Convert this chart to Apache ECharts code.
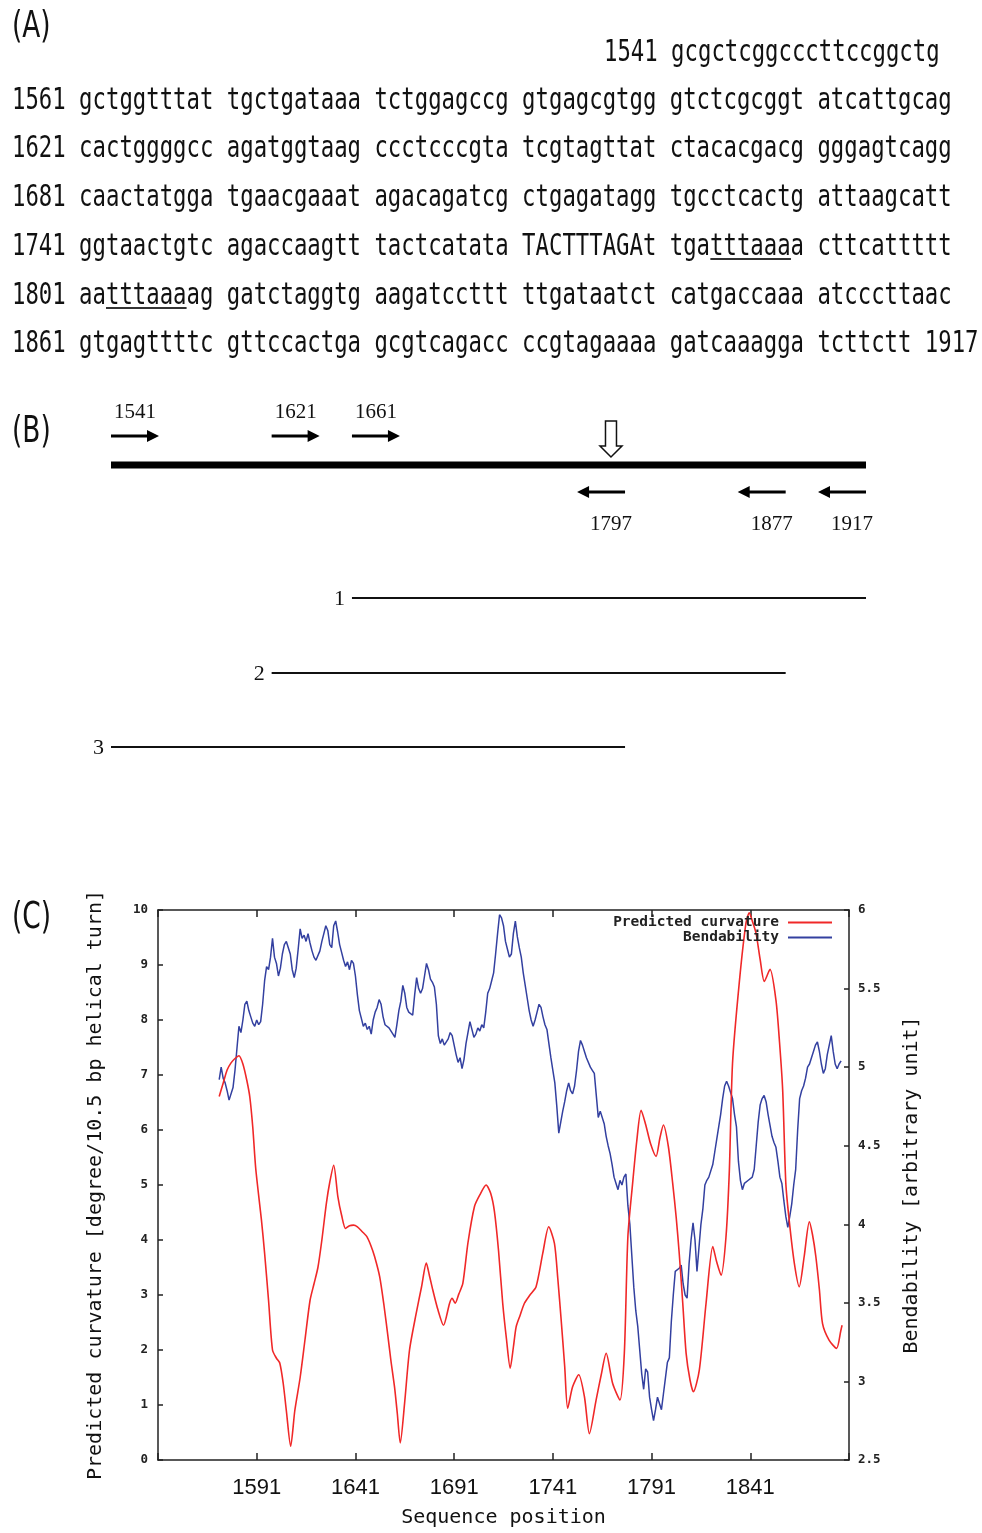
<!DOCTYPE html>
<html><head><meta charset="utf-8">
<script src="https://cdn.jsdelivr.net/npm/echarts@6/dist/echarts.min.js"></script>
<style>html,body{margin:0;padding:0;background:#fff}#c{width:982px;height:1533px}</style>
</head><body><div id="c"></div>
<script>
// ---------------- Panel A data ----------------
const seqFirstRowNumber = 1541;
const seqFirstRowText = 'gcgctcggcccttccggctg';
const seqRowNumbers = [1561, 1621, 1681, 1741, 1801, 1861];
const seqRowTexts = [
  'gctggtttat tgctgataaa tctggagccg gtgagcgtgg gtctcgcggt atcattgcag',
  'cactggggcc agatggtaag ccctcccgta tcgtagttat ctacacgacg gggagtcagg',
  'caactatgga tgaacgaaat agacagatcg ctgagatagg tgcctcactg attaagcatt',
  'ggtaactgtc agaccaagtt tactcatata TACTTTAGAt tgatttaaaa cttcattttt',
  'aatttaaaag gatctaggtg aagatccttt ttgataatct catgaccaaa atcccttaac',
  'gtgagttttc gttccactga gcgtcagacc ccgtagaaaa gatcaaagga tcttctt'
];
const seqEndNumber = 1917;
// underlined motifs: row index, group index, offset in group, length
const underlineRows = [3, 4];
const underlineGroups = [4, 0];
const underlineOffsets = [3, 2];
const underlineLengths = [6, 6];

// ---------------- Panel B data ----------------
const fragmentRange = [1541, 1917];
const forwardPrimers = [1541, 1621, 1661];
const reversePrimers = [1797, 1877, 1917];
const productNames = ['1', '2', '3'];
const productStarts = [1661, 1621, 1541];
const productEnds = [1917, 1877, 1797];
const bendSitePosition = 1790;

// ---------------- Panel C data ----------------
const xTickLabels = [1591, 1641, 1691, 1741, 1791, 1841];
const curvPos = [1572,1574,1576,1578,1580,1582,1584,1586,1587.5,1589,1590.5,1593.4,1595,1597,1599,1601,1602.7,1604.4,1606,1608.2,1610.3,1613,1615.5,1618,1620,1622,1624,1626.3,1628,1630,1632.1,1634,1636,1638,1640,1642,1644.5,1646.8,1648.8,1650.7,1653.3,1655.5,1657.5,1659,1660.8,1662.2,1663.7,1665.9,1668.4,1671.8,1674.5,1676.9,1678.5,1680.2,1682.8,1685.6,1688.7,1690,1691.5,1693.4,1695.4,1698,1701.3,1704,1707.2,1709.5,1711.4,1713.5,1715.6,1717.5,1719.4,1721,1722.4,1724.3,1726.6,1729.4,1732.5,1735.9,1738.9,1741.8,1743.5,1745.2,1747,1748.5,1751,1754.1,1757,1759.5,1762.9,1765.5,1768,1771.3,1775,1777.2,1779,1781.4,1783.5,1785.7,1788,1790.5,1793.3,1795.2,1797,1799.5,1801.7,1803.5,1805,1806.8,1808.5,1810.5,1812.2,1815.2,1818.6,1822,1824,1826.2,1828.7,1830.4,1832,1835.4,1838.8,1840.5,1842,1843.9,1846,1848.1,1851,1854,1855.8,1857.4,1859,1860.7,1863.3,1865.8,1868.3,1870.9,1872.5,1874.2,1876,1877.6,1880.9,1884.7,1886.9,1887.5];
const curvVal = [6.61,6.85,7.09,7.22,7.30,7.35,7.20,6.90,6.6,6.05,5.3,4.36,3.76,2.9,2.0,1.85,1.76,1.4,0.9,0.25,0.9,1.5,2.2,2.9,3.2,3.5,4.0,4.67,5.05,5.36,4.79,4.45,4.21,4.26,4.27,4.24,4.15,4.06,3.9,3.7,3.33,2.8,2.24,1.8,1.33,0.85,0.31,1.03,2.0,2.67,3.15,3.58,3.35,3.09,2.73,2.45,2.85,2.94,2.85,3.02,3.21,3.95,4.61,4.82,5.0,4.85,4.52,3.8,2.85,2.2,1.67,2.05,2.42,2.62,2.85,3.0,3.15,3.76,4.24,3.94,3.3,2.55,1.7,0.94,1.33,1.55,1.15,0.48,1.09,1.55,1.94,1.39,1.09,1.94,4.06,5.03,5.8,6.36,6.1,5.75,5.52,5.85,6.09,5.7,5.03,4.4,3.76,2.85,1.94,1.45,1.24,1.64,2.85,3.88,3.6,3.36,4.06,5.27,7.21,8.67,9.76,9.95,9.8,9.58,9.1,8.7,8.92,8.36,7.6,6.73,5.03,4.36,3.58,3.15,3.7,4.33,4.1,3.7,3.1,2.48,2.18,2.03,2.36,2.45];
const bendPos = [1572,1573,1574,1575,1576,1577,1578,1579,1580,1581,1582,1583,1584,1585,1586,1587,1588,1589,1590,1591,1592,1593,1594,1595,1596,1597,1598,1599,1600,1601,1602,1603,1604,1605,1606,1607,1608,1609,1610,1611,1612,1613,1614,1615,1616,1617,1618,1619,1620,1621,1622,1623,1624,1625,1626,1627,1628,1629,1630,1631,1632,1633,1634,1635,1636,1637,1638,1639,1640,1641,1642,1643,1644,1645,1646,1647,1648,1649,1650,1651,1652,1653,1654,1655,1656,1657,1658,1659,1660,1661,1662,1663,1664,1665,1666,1667,1668,1669,1670,1671,1672,1673,1674,1675,1676,1677,1678,1679,1680,1681,1682,1683,1684,1685,1686,1687,1688,1689,1690,1691,1692,1693,1694,1695,1696,1697,1698,1699,1700,1701,1702,1703,1704,1705,1706,1707,1708,1709,1710,1711,1712,1713,1714,1715,1716,1717,1718,1719,1720,1721,1722,1723,1724,1725,1726,1727,1728,1729,1730,1731,1732,1733,1734,1735,1736,1737,1738,1739,1740,1741,1742,1743,1744,1745,1746,1747,1748,1749,1750,1751,1752,1753,1754,1755,1756,1757,1758,1759,1760,1761,1762,1763,1764,1765,1766,1767,1768,1769,1770,1771,1772,1773,1774,1775,1776,1777,1778,1779,1780,1781,1782,1783,1784,1785,1786,1787,1788,1789,1790,1791,1792,1793,1794,1795,1796,1797,1798,1799,1800,1801,1802,1803,1804,1805,1806,1807,1808,1809,1810,1811,1812,1813,1814,1815,1816,1817,1818,1819,1820,1821,1822,1823,1824,1825,1826,1827,1828,1829,1830,1831,1832,1833,1834,1835,1836,1837,1838,1839,1840,1841,1842,1843,1844,1845,1846,1847,1848,1849,1850,1851,1852,1853,1854,1855,1856,1857,1858,1859,1860,1861,1862,1863,1864,1865,1866,1867,1868,1869,1870,1871,1872,1873,1874,1875,1876,1877,1878,1879,1880,1881,1882,1883,1884,1885,1886,1887];
const bendVal = [4.92,5.00,4.93,4.90,4.85,4.79,4.80,4.87,4.98,5.12,5.26,5.22,5.30,5.40,5.42,5.36,5.32,5.28,5.26,5.30,5.27,5.29,5.40,5.55,5.64,5.62,5.70,5.82,5.70,5.66,5.58,5.63,5.72,5.78,5.80,5.79,5.72,5.62,5.57,5.63,5.75,5.88,5.82,5.84,5.80,5.85,5.79,5.74,5.70,5.68,5.69,5.74,5.80,5.85,5.90,5.87,5.78,5.76,5.90,5.93,5.86,5.78,5.73,5.68,5.64,5.67,5.62,5.68,5.66,5.58,5.46,5.36,5.31,5.26,5.28,5.24,5.26,5.21,5.30,5.35,5.38,5.43,5.40,5.32,5.27,5.26,5.25,5.24,5.21,5.19,5.27,5.36,5.42,5.52,5.47,5.38,5.35,5.36,5.33,5.46,5.57,5.50,5.47,5.50,5.58,5.66,5.62,5.56,5.54,5.51,5.40,5.20,5.15,5.18,5.14,5.13,5.18,5.22,5.20,5.14,5.08,5.03,5.06,4.99,5.05,5.15,5.22,5.29,5.24,5.19,5.21,5.25,5.23,5.27,5.25,5.35,5.47,5.50,5.55,5.60,5.72,5.85,5.97,5.95,5.90,5.80,5.75,5.70,5.72,5.85,5.93,5.83,5.76,5.70,5.60,5.52,5.44,5.36,5.30,5.26,5.30,5.35,5.40,5.38,5.32,5.27,5.24,5.15,5.06,4.98,4.90,4.75,4.58,4.65,4.72,4.78,4.85,4.90,4.85,4.83,4.88,4.98,5.10,5.17,5.14,5.10,5.06,5.05,5.00,4.98,4.96,4.82,4.68,4.72,4.73,4.64,4.56,4.50,4.45,4.38,4.30,4.26,4.22,4.28,4.25,4.30,4.32,4.12,4.00,3.80,3.60,3.45,3.35,3.20,3.05,2.95,3.08,3.06,2.90,2.82,2.75,2.82,2.90,2.86,2.82,2.92,3.02,3.12,3.15,3.38,3.55,3.70,3.71,3.72,3.74,3.62,3.55,3.53,3.75,3.90,4.01,3.90,3.70,3.85,4.00,4.10,4.25,4.28,4.30,4.30,4.38,4.46,4.54,4.62,4.70,4.80,4.88,4.91,4.88,4.87,4.80,4.70,4.62,4.40,4.28,4.22,4.26,4.25,4.28,4.27,4.30,4.35,4.50,4.65,4.76,4.80,4.82,4.78,4.70,4.63,4.56,4.52,4.49,4.40,4.30,4.26,4.15,4.05,3.98,4.05,4.13,4.25,4.35,4.60,4.80,4.85,4.88,4.93,5.00,5.02,5.06,5.10,5.14,5.16,5.10,5.02,4.96,4.99,5.08,5.14,5.20,5.10,5.02,4.99,5.02,5.04];

// ---------------- Layout / style constants ----------------
const MONO = '"DejaVu Sans Mono", "Liberation Mono", monospace';
const SERIF = '"Liberation Serif", "DejaVu Serif", serif';
const CHAR_W = 13.43;
const A_X0 = 12;
const A_ROW_Y = [101, 149, 198, 247, 296, 344];
const A_FIRST_Y = 53;
const A_FIRST_X = 604;
const A_SCALE_Y = 1.32;
const seqFont = '22.3px ' + MONO;

const B = { fwdY: 436, fwdLabelY: 412, lineY: 465, revY: 492, revLabelY: 524,
            productY: [598, 673, 747], arrowLen: 48 };

function txt(x, y, text, font, opts) {
  opts = opts || {};
  return Object.assign({
    type: 'text', x: x, y: y, silent: true,
    style: Object.assign({ text: text, font: font, fill: '#111',
      textAlign: opts.align || 'left', textVerticalAlign: 'middle',
      align: opts.align || 'left', verticalAlign: 'middle' }, opts.style || {})
  }, opts.props || {});
}

const graphics = [];
// Panel titles
[['(A)', 27], ['(B)', 432], ['(C)', 918]].forEach(function (p) {
  graphics.push(txt(12, p[1], p[0], '30px "DejaVu Sans", sans-serif', { props: { scaleX: 0.88, scaleY: 1.25 } }));
});
// Panel A sequence rows
graphics.push(txt(A_FIRST_X, A_FIRST_Y, seqFirstRowNumber + ' ' + seqFirstRowText, seqFont, { props: { scaleY: A_SCALE_Y } }));
seqRowNumbers.forEach(function (n, i) {
  let s = n + ' ' + seqRowTexts[i];
  if (i === seqRowNumbers.length - 1) s += ' ' + seqEndNumber;
  graphics.push(txt(A_X0, A_ROW_Y[i], s, seqFont, { props: { scaleY: A_SCALE_Y } }));
});
underlineRows.forEach(function (r, k) {
  const idx = 5 + underlineGroups[k] * 11 + underlineOffsets[k];
  const x1 = A_X0 + idx * CHAR_W, x2 = x1 + underlineLengths[k] * CHAR_W;
  const y = A_ROW_Y[r] + 12;
  graphics.push({ type: 'line', silent: true, shape: { x1: x1, y1: y, x2: x2, y2: y }, style: { stroke: '#333', lineWidth: 2 } });
});

// ---------------- Panel B custom render functions ----------------
function fwdArrow(params, api) {
  const pos = api.value(0);
  const x = api.coord([pos, 0])[0];
  const L = B.arrowLen, y = B.fwdY;
  return { type: 'group', children: [
    { type: 'line', shape: { x1: x, y1: y, x2: x + L - 8, y2: y }, style: { stroke: '#000', lineWidth: 2.8 } },
    { type: 'polygon', shape: { points: [[x + L, y], [x + L - 12, y - 6], [x + L - 12, y + 6]] }, style: { fill: '#000' } },
    { type: 'text', x: x + L / 2, y: B.fwdLabelY, style: { text: String(pos), font: '21px ' + SERIF, fill: '#111', align: 'center', verticalAlign: 'middle', textAlign: 'center', textVerticalAlign: 'middle' } }
  ] };
}
function revArrow(params, api) {
  const pos = api.value(0);
  const x = api.coord([pos, 0])[0];
  const L = B.arrowLen, y = B.revY;
  return { type: 'group', children: [
    { type: 'line', shape: { x1: x - L + 8, y1: y, x2: x, y2: y }, style: { stroke: '#000', lineWidth: 2.8 } },
    { type: 'polygon', shape: { points: [[x - L, y], [x - L + 12, y - 6], [x - L + 12, y + 6]] }, style: { fill: '#000' } },
    { type: 'text', x: x - L / 2 + 10, y: B.revLabelY, style: { text: String(pos), font: '21px ' + SERIF, fill: '#111', align: 'center', verticalAlign: 'middle', textAlign: 'center', textVerticalAlign: 'middle' } }
  ] };
}
function fragmentLine(params, api) {
  const x1 = api.coord([api.value(0), 0])[0], x2 = api.coord([api.value(1), 0])[0];
  return { type: 'rect', shape: { x: x1, y: B.lineY - 3.5, width: x2 - x1, height: 7 }, style: { fill: '#000' } };
}
function productLine(params, api) {
  const i = params.dataIndex;
  const x1 = api.coord([api.value(0), 0])[0], x2 = api.coord([api.value(1), 0])[0];
  const y = B.productY[i];
  return { type: 'group', children: [
    { type: 'line', shape: { x1: x1, y1: y, x2: x2, y2: y }, style: { stroke: '#111', lineWidth: 1.8 } },
    { type: 'text', x: x1 - 7, y: y + 1, style: { text: productNames[i], font: '22px ' + SERIF, fill: '#111', align: 'right', verticalAlign: 'middle', textAlign: 'right', textVerticalAlign: 'middle' } }
  ] };
}
function bendMark(params, api) {
  const x = api.coord([api.value(0), 0])[0];
  const top = 421, neck = 446, tip = 457, sw = 5.5, hw = 11;
  return { type: 'polygon', shape: { points: [[x - sw, top], [x + sw, top], [x + sw, neck], [x + hw, neck], [x, tip], [x - hw, neck], [x - sw, neck]] },
    style: { fill: '#fff', stroke: '#111', lineWidth: 1.5 } };
}

// ---------------- Chart ----------------
const chart = echarts.init(document.getElementById('c'), null, { renderer: 'canvas' });
const tickFont = { fontFamily: MONO, fontWeight: 'bold', fontSize: 12.5, color: '#222' };
const axisLineStyle = { color: '#222', width: 1.5 };
const legendText = { fontFamily: MONO, fontWeight: 'bold', fontSize: 14.5, color: '#222', padding: [0, 4, 0, 0] };

chart.setOption({
  animation: false,
  backgroundColor: '#fff',
  grid: [
    { left: 158, top: 910, width: 691, height: 550 },
    { left: 111, top: 400, width: 755, height: 380 }
  ],
  legend: [
    { data: ['Predicted curvature'], right: 150, top: 915, orient: 'vertical', align: 'right', icon: 'rect', itemWidth: 44, itemHeight: 2,
      selectedMode: false, padding: 0, textStyle: legendText },
    { data: ['Bendability'], right: 150, top: 930, orient: 'vertical', align: 'right', icon: 'rect', itemWidth: 44, itemHeight: 2,
      selectedMode: false, padding: 0, textStyle: legendText }
  ],
  xAxis: [
    { gridIndex: 0, type: 'value', position: 'bottom', min: 1541, max: 1891, interval: 50,
      axisLine: { show: true, onZero: false, lineStyle: axisLineStyle },
      axisTick: { show: true, inside: true, length: 7, lineStyle: axisLineStyle },
      axisLabel: { margin: 17, fontFamily: '"Liberation Sans", Arial, sans-serif', fontSize: 22, color: '#111',
        formatter: function (v) { return xTickLabels.indexOf(v) >= 0 ? String(v) : ''; } },
      splitLine: { show: false },
      name: 'Sequence position', nameLocation: 'middle', nameGap: 48,
      nameTextStyle: { fontFamily: MONO, fontSize: 20, color: '#111' } },
    { gridIndex: 0, type: 'value', position: 'top', min: 1541, max: 1891, interval: 50,
      axisLine: { show: true, onZero: false, lineStyle: axisLineStyle },
      axisTick: { show: true, inside: true, length: 7, lineStyle: axisLineStyle },
      axisLabel: { show: false }, splitLine: { show: false } },
    { gridIndex: 1, type: 'value', min: fragmentRange[0], max: fragmentRange[1], show: false }
  ],
  yAxis: [
    { gridIndex: 0, type: 'value', position: 'left', min: 0, max: 10, interval: 1,
      axisLine: { show: true, onZero: false, lineStyle: axisLineStyle },
      axisTick: { show: true, inside: true, length: 5, lineStyle: axisLineStyle },
      axisLabel: Object.assign({ margin: 10 }, tickFont), splitLine: { show: false },
      name: 'Predicted curvature [degree/10.5 bp helical turn]', nameLocation: 'middle', nameGap: 52,
      nameTextStyle: { fontFamily: MONO, fontSize: 20, color: '#111' } },
    { gridIndex: 0, type: 'value', position: 'right', min: 2.5, max: 6, interval: 0.5,
      axisLine: { show: true, onZero: false, lineStyle: axisLineStyle },
      axisTick: { show: true, inside: true, length: 5, lineStyle: axisLineStyle },
      axisLabel: Object.assign({ margin: 9 }, tickFont), splitLine: { show: false },
      name: 'Bendability [arbitrary unit]', nameLocation: 'middle', nameGap: 53,
      nameTextStyle: { fontFamily: MONO, fontSize: 20, color: '#111' } },
    { gridIndex: 1, type: 'value', min: 0, max: 1, show: false }
  ],
  series: [
    { name: 'Predicted curvature', type: 'line', xAxisIndex: 0, yAxisIndex: 0, symbol: 'none', smooth: 0.25,
      data: curvPos.map(function (p, i) { return [p, curvVal[i]]; }),
      lineStyle: { color: '#f02828', width: 1.6 }, itemStyle: { color: '#f02828' }, z: 3 },
    { name: 'Bendability', type: 'line', xAxisIndex: 0, yAxisIndex: 1, symbol: 'none',
      data: bendPos.map(function (p, i) { return [p, bendVal[i]]; }),
      lineStyle: { color: '#3340a0', width: 1.5 }, itemStyle: { color: '#3340a0' }, z: 2 },
    { type: 'custom', xAxisIndex: 2, yAxisIndex: 2, clip: false, renderItem: fragmentLine, data: [[fragmentRange[0], fragmentRange[1]]] },
    { type: 'custom', xAxisIndex: 2, yAxisIndex: 2, clip: false, renderItem: fwdArrow, data: forwardPrimers.map(function (p) { return [p]; }) },
    { type: 'custom', xAxisIndex: 2, yAxisIndex: 2, clip: false, renderItem: revArrow, data: reversePrimers.map(function (p) { return [p]; }) },
    { type: 'custom', xAxisIndex: 2, yAxisIndex: 2, clip: false, renderItem: productLine, data: productStarts.map(function (s, i) { return [s, productEnds[i]]; }) },
    { type: 'custom', xAxisIndex: 2, yAxisIndex: 2, clip: false, renderItem: bendMark, data: [[bendSitePosition]] }
  ],
  graphic: { elements: graphics }
});
</script></body></html>
